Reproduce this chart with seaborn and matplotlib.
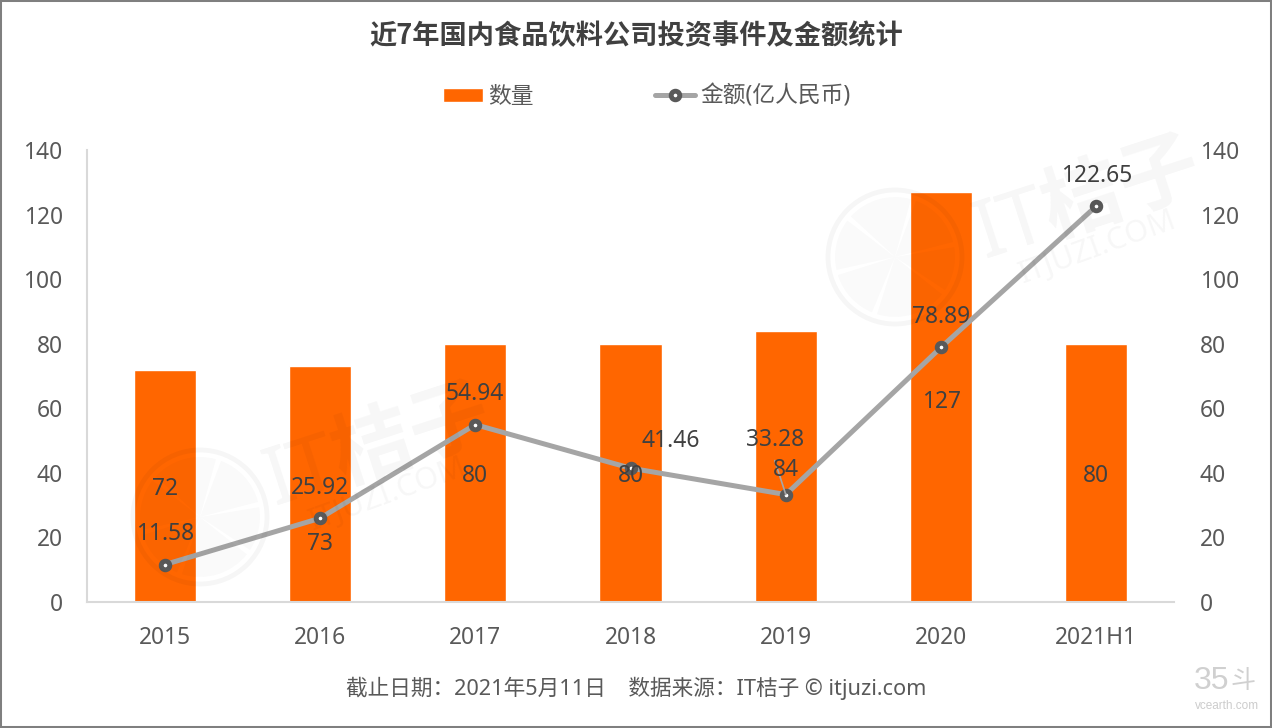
import matplotlib
matplotlib.use("Agg")
import matplotlib.pyplot as plt
from matplotlib.patches import Circle, Rectangle, Wedge
import seaborn as sns
import pandas as pd

sns.set_theme(style="white")
plt.rcParams['font.family'] = ['Noto Sans', 'Noto Sans CJK SC', 'DejaVu Sans']

categories = ['2015', '2016', '2017', '2018', '2019', '2020', '2021H1']
counts = [72, 73, 80, 80, 84, 127, 80]
amounts = [11.58, 25.92, 54.94, 41.46, 33.28, 78.89, 122.65]
amount_labels = ['11.58', '25.92', '54.94', '41.46', '33.28', '78.89', '122.65']
yticks = [0, 20, 40, 60, 80, 100, 120, 140]
title = '近7年国内食品饮料公司投资事件及金额统计'
footer = '截止日期\uff1a2021年5月11日    数据来源\uff1aIT桔子 © itjuzi.com'

df = pd.DataFrame({'year': categories, '数量': counts, '金额(亿人民币)': amounts})

W, H = 1272, 728
PX = 0.72  # points per pixel at dpi 100
TEXT = '#595959'
LABEL = '#404040'
AXIS = '#D9D9D9'
fig = plt.figure(figsize=(W / 100, H / 100), dpi=100, facecolor='white')
ax = fig.add_axes([87 / W, (H - 602) / H, (1174 - 87) / W, 452 / H])

sns.barplot(data=df, x='year', y='数量', color='#FF6600', saturation=1, width=0.4,
            ax=ax, label='数量', zorder=2)
h1, l1 = ax.get_legend_handles_labels()
if ax.get_legend() is not None:
    ax.get_legend().remove()
ax.set_ylim(0, 140)
ax.set_xlim(-0.5, 6.5)
ax.set_yticks(yticks)
ax.set_xlabel('')
ax.set_ylabel('')

ax2 = ax.twinx()
sns.lineplot(data=df, x='year', y='金额(亿人民币)', sort=False, color='#A5A5A5', linewidth=3.6,
             marker='o', markersize=6.2, markerfacecolor='white', markeredgecolor=TEXT,
             markeredgewidth=3.5, ax=ax2, label='金额(亿人民币)', zorder=3)
h2, l2 = ax2.get_legend_handles_labels()
ax2.get_legend().remove()
ax2.set_ylim(0, 140)
ax2.set_yticks(yticks)
ax2.set_ylabel('')
ax2.set_xlabel('')

for a in (ax, ax2):
    for s in a.spines.values():
        s.set_visible(False)
    a.tick_params(axis='both', length=0, labelsize=16.4, labelcolor=TEXT)
ax.tick_params(axis='y', pad=17.5)
ax2.tick_params(axis='y', pad=18.5)
ax.tick_params(axis='x', pad=17)
for side in ('left', 'bottom'):
    ax.spines[side].set_visible(True)
    ax.spines[side].set_color(AXIS)
    ax.spines[side].set_linewidth(1.5)

LIFT = -3.5  # label baseline correction, pixels
# Bar labels sit mid-bar, except the 2016 one which was pushed below the line
bar_shift = {1: -56, 5: -2}
for i, v in enumerate(counts):
    ax2.annotate(str(v), (i, v / 2), xytext=(0, (bar_shift.get(i, 0) + LIFT) * PX), textcoords='offset points',
                 ha='center', va='center', fontsize=16.4, color=LABEL, zorder=5)

# Offsets of the amount labels from their points, in pixels
line_shift = [(0, 34), (0, 34), (0, 34), (40, 31), (-11, 58), (0, 34), (0, 34)]
for i, (v, s) in enumerate(zip(amounts, amount_labels)):
    dx, dy = line_shift[i]
    ax2.annotate(s, (i, v), xytext=(dx * PX, (dy + LIFT) * PX), textcoords='offset points',
                 ha='center', va='center', fontsize=16.4, color=LABEL, zorder=5)
ax2.annotate('', (4, amounts[4]), xytext=(-11 * PX, 34 * PX), textcoords='offset points',
             arrowprops=dict(arrowstyle='-', color='#A6A6A6', lw=1.2, shrinkA=0, shrinkB=0), zorder=4)

fig.text(636 / W, 1 - 36 / H, title, ha='center', va='center', fontsize=19.6,
         fontweight='bold', color=LABEL, family=['Noto Sans CJK SC', 'DejaVu Sans'])
fig.text(636 / W, 1 - 688 / H, footer, ha='center', va='center', fontsize=15.6, color=TEXT)

fig.legend(h1 + h2, l1 + l2, loc='center', bbox_to_anchor=(646.5 / W, 1 - 97 / H), ncol=2, frameon=False,
           fontsize=16.4, labelcolor=TEXT, handlelength=1.76, handleheight=0.63,
           handletextpad=0.22, columnspacing=5.33, borderpad=0, borderaxespad=0)

# Faint IT桔子 watermarks
ink = (0, 0, 0, 0.035)
soft = (0, 0, 0, 0.02)
spokes = [12, 72, 140, 195, 250, 324, 372]
for cx, cy, tx, ty, ux, uy in [(895, 257, 985, 258, 1023, 283), (200, 517, 275, 505, 313, 530)]:
    fig.add_artist(Circle((cx, H - cy), 67, transform=None, fill=False, ec=ink, lw=3.5, zorder=10))
    for a0, a1 in zip(spokes[:-1], spokes[1:]):
        fig.add_artist(Wedge((cx, H - cy), 60, a0 + 2.5, a1 - 2.5, transform=None, fc=soft, ec='none', zorder=10))
    fig.text(tx / W, 1 - ty / H, 'IT桔子', rotation=18, rotation_mode='anchor', fontsize=58,
             color=ink, ha='left', va='baseline', zorder=10, fontweight='bold')
    fig.text(ux / W, 1 - uy / H, 'ITJUZI.COM', rotation=20, rotation_mode='anchor', fontsize=22,
             color=ink, ha='left', va='baseline', zorder=10)

# 35斗 mark
MARK = ['Liberation Sans Narrow', 'Liberation Sans', 'DejaVu Sans']
fig.text(1212 / W, 1 - 681 / H, '35', ha='center', va='center', fontsize=23, color='#D0D0D0', zorder=10, family=MARK)
fig.text(1243 / W, 1 - 681 / H, '斗', ha='center', va='center', fontsize=18, color='#D0D0D0', zorder=10,
         family=['Noto Sans CJK SC'])
fig.text(1227 / W, 1 - 706 / H, 'vcearth.com', ha='center', va='center', fontsize=8.5, color='#CCCCCC', zorder=10, family=MARK)

fig.add_artist(Rectangle((0, 0), 1, 1, transform=fig.transFigure, fill=False, ec='#7F7F7F', lw=2.9, zorder=20))
fig.savefig('out.png', dpi=100, facecolor='white')
